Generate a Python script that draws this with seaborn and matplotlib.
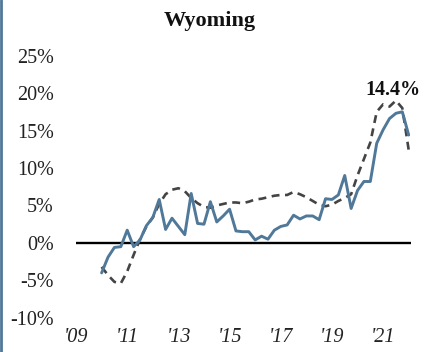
import numpy as np
import pandas as pd
import matplotlib
matplotlib.use("Agg")
import matplotlib.pyplot as plt
from matplotlib.lines import Line2D
import seaborn as sns

# Quarterly year-over-year growth, 2010Q1 - 2022Q1 (percent)
quarters = np.arange(49) / 4 + 2010
series_a = [-4.0, -1.9, -0.6, -0.5, 1.7, -0.5, 0.4, 2.3, 3.4, 5.8,
            1.8, 3.3, 2.2, 1.1, 6.6, 2.6, 2.5, 5.5, 2.8, 3.6,
            4.5, 1.6, 1.5, 1.5, 0.4, 0.9, 0.5, 1.7, 2.2, 2.4,
            3.7, 3.2, 3.6, 3.6, 3.1, 5.9, 5.8, 6.4, 9.0, 4.6,
            7.0, 8.2, 8.2, 13.3, 15.1, 16.6, 17.3, 17.5, 14.4]
series_b = [-3.2, -4.3, -5.2, -5.4, -3.8, -1.6, 0.5, 2.2, 3.4, 5.2,
            6.5, 7.1, 7.3, 6.9, 6.0, 5.3, 4.8, 4.7, 5.0, 5.2,
            5.4, 5.4, 5.3, 5.5, 5.8, 5.9, 6.1, 6.3, 6.4, 6.4,
            6.8, 6.5, 6.1, 5.6, 5.1, 4.9, 5.1, 5.6, 6.0, 6.5,
            9.0, 11.2, 13.4, 17.5, 18.5, 18.2, 19.0, 18.0, 12.4]
y_ticks = [-10, -5, 0, 5, 10, 15, 20, 25]
x_ticks = [2009, 2011, 2013, 2015, 2017, 2019, 2021]
x_labels = ["'09", "'11", "'13", "'15", "'17", "'19", "'21"]
title = "Wyoming"

df = pd.DataFrame({"q": quarters, "a": series_a, "b": series_b})

sns.set_theme(style="white")
plt.rcParams["font.family"] = ["Liberation Serif", "DejaVu Serif"]

fig = plt.figure(figsize=(4.32, 3.52), dpi=100)
ax = fig.add_axes([0.176, 0.097, 0.776, 0.745])

blue = "#4f7899"
ax.axhline(0, color="black", lw=1.7, zorder=1)
sns.lineplot(data=df, x="q", y="b", ax=ax, color="#444444", lw=1.9,
             dashes=False, zorder=2).lines[-1].set_dashes((3.0, 2.1))
sns.lineplot(data=df, x="q", y="a", ax=ax, color=blue, lw=2.1, zorder=3)

ax.set_xlim(2009, 2022.1)
ax.set_ylim(-10, 25)
ax.set_yticks(y_ticks)
ax.set_yticklabels([f"{v}%" for v in y_ticks], fontsize=14.5, color="#222222")
ax.set_xticks(x_ticks)
ax.set_xticklabels(x_labels, fontsize=14.5, style="italic", color="#222222")
ax.tick_params(axis="y", length=0, pad=16)
ax.tick_params(axis="x", length=0, pad=7)
ax.set_xlabel("")
ax.set_ylabel("")
for s in ax.spines.values():
    s.set_visible(False)

ax.text(2021.4, 20.4, f"{series_a[-1]:.1f}%", fontsize=14.5, fontweight="bold",
        ha="center", va="center", color="#111111")
fig.text(0.486, 0.94, title, fontsize=16, fontweight="bold",
         ha="center", va="center", color="#111111")

# thin accent rule along the left edge
fig.add_artist(Line2D([0.002, 0.002], [0, 1], transform=fig.transFigure,
                      color=blue, lw=2))

fig.savefig("out.png", dpi=100, facecolor="white")
